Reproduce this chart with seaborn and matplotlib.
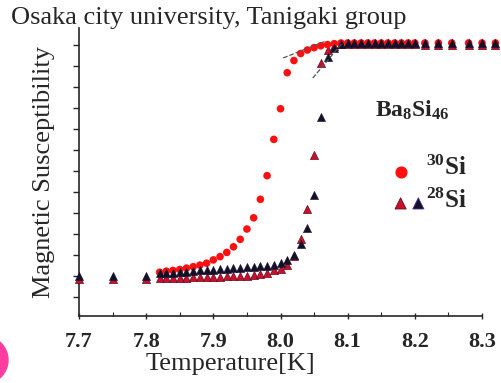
import numpy as np
import pandas as pd
import matplotlib.pyplot as plt
import seaborn as sns
from matplotlib.patches import Ellipse

# data (susceptibility normalised: low plateau 0, high plateau 1)
temp_30si = [7.82, 7.83, 7.84, 7.85, 7.86, 7.87, 7.88, 7.89, 7.90, 7.91,
             7.92, 7.93, 7.94, 7.95, 7.96, 7.97, 7.98, 7.99, 8.00, 8.01,
             8.02, 8.03, 8.04, 8.05, 8.06, 8.07, 8.08, 8.09, 8.10, 8.11,
             8.12, 8.13, 8.14, 8.15, 8.16, 8.17, 8.18, 8.19, 8.20,
             8.215, 8.235, 8.255, 8.28, 8.30, 8.32]
chi_30si = [0.020, 0.025, 0.028, 0.032, 0.038, 0.044, 0.051, 0.059, 0.073, 0.087,
            0.105, 0.129, 0.161, 0.205, 0.253, 0.332, 0.433, 0.588, 0.719, 0.873,
            0.925, 0.955, 0.970, 0.980, 0.988, 0.993, 0.997, 1.0, 1.0, 1.0,
            1.0, 1.0, 1.0, 1.0, 1.0, 1.0, 1.0, 1.0, 1.0,
            1.0, 1.0, 1.0, 1.0, 1.0, 1.0]

temp_28si = [7.70, 7.75, 7.80, 7.82, 7.83, 7.84, 7.85, 7.86, 7.87, 7.88,
             7.89, 7.90, 7.91, 7.92, 7.93, 7.94, 7.95, 7.96, 7.97, 7.98,
             7.99, 8.00, 8.01, 8.02, 8.03, 8.04, 8.05, 8.06, 8.07, 8.08,
             8.09, 8.10, 8.11, 8.12, 8.13, 8.14, 8.15, 8.16, 8.17, 8.18,
             8.19, 8.20, 8.215, 8.235, 8.255, 8.28, 8.30, 8.32]
chi_28si_black = [0.004, 0.004, 0.004, 0.015, 0.017, 0.019, 0.021, 0.023, 0.025, 0.028,
                  0.030, 0.032, 0.034, 0.036, 0.038, 0.040, 0.042, 0.044, 0.046, 0.048,
                  0.052, 0.058, 0.072, 0.094, 0.141, 0.208, 0.350, 0.683, 0.942, 0.980,
                  0.995, 1.0, 1.0, 1.0, 1.0, 1.0, 1.0, 1.0, 1.0, 1.0,
                  1.0, 1.0, 1.0, 1.0, 1.0, 1.0, 1.0, 1.0]
chi_28si_red = [-0.009, -0.009, -0.009, -0.006, -0.005, -0.004, -0.004, -0.003, -0.002, -0.001,
                0.0, 0.001, 0.002, 0.003, 0.004, 0.005, 0.006, 0.008, 0.012, 0.018,
                0.028, 0.036, 0.051, 0.090, 0.161, 0.290, 0.521, 0.913, 0.970, 0.985,
                0.995, 0.995, 0.995, 0.995, 0.995, 0.995, 0.995, 0.995, 0.995, 0.995,
                0.995, 0.995, 0.99, 0.99, 0.99, 0.99, 0.99, 0.99]

# tangent lines marking the onset
tangent_30si_t = [8.004, 8.068]
tangent_30si_chi = [0.936, 1.009]
tangent_28si_t = [8.048, 8.092]
tangent_28si_chi = [0.85, 1.0]

df30 = pd.DataFrame({"T": temp_30si, "chi": chi_30si})
df28 = pd.DataFrame({"T": temp_28si, "black": chi_28si_black, "red": chi_28si_red})

sns.set_style("ticks")
plt.rcParams['font.family'] = ['Liberation Serif', 'DejaVu Serif']
plt.rcParams['mathtext.fontset'] = 'custom'
plt.rcParams['mathtext.rm'] = 'Liberation Serif'
plt.rcParams['mathtext.bf'] = 'Liberation Serif:bold'

fig = plt.figure(figsize=(5.01, 3.83), dpi=100)
ax = fig.add_axes([0.1577, 0.1749, 0.8044, 0.752])

sns.scatterplot(data=df28, x="T", y="red", ax=ax, marker="^", s=34,
                color="#c8102e", edgecolor="#6a0a1a", linewidth=0.5, clip_on=False, zorder=3)
sns.scatterplot(data=df30, x="T", y="chi", ax=ax, marker="o", s=30,
                color="#ff1010", edgecolor="none", clip_on=False, zorder=4)
sns.scatterplot(data=df28, x="T", y="black", ax=ax, marker="^", s=34,
                color="#14102a", edgecolor="#14102a", linewidth=0.4, clip_on=False, zorder=5)

ax.plot(tangent_30si_t, tangent_30si_chi, ls="--", color="#555555", lw=0.9, zorder=6)
ax.plot(tangent_28si_t, tangent_28si_chi, ls="--", color="#555555", lw=0.9, zorder=6)

ax.set_xlim(7.7, 8.3)
ax.set_ylim(-0.1667, 1.064)
ax.set_xticks(np.arange(7.7, 8.31, 0.1))
ax.set_xticks(np.arange(7.75, 8.3, 0.1), minor=True)
ax.set_xticklabels([f"{v:.1f}" for v in np.arange(7.7, 8.31, 0.1)],
                   fontsize=16, fontweight="bold")
ax.set_yticks(np.arange(13) * 0.0897 - 0.0855)
ax.set_yticklabels([])
ax.tick_params(axis="x", which="major", length=5, width=1, pad=9, direction="inout")
ax.tick_params(axis="x", which="minor", length=3, width=0.8, direction="in")
ax.tick_params(axis="y", length=4, width=1, direction="out")
sns.despine(ax=ax)
ax.spines["left"].set_linewidth(1.2)
ax.spines["bottom"].set_linewidth(1.2)

ax.set_xlabel("")
ax.set_ylabel("Magnetic Susceptibility", fontsize=19, labelpad=10)
fig.text(0.459, 0.05, "Temperature[K]", fontsize=19, ha="center", va="center")

fig.text(0.022, 0.925, "Osaka city university, Tanigaki group", fontsize=19, va="bottom")

ax.text(0.734, 0.715, r"$\mathbf{Ba_{8}Si_{46}}$", transform=ax.transAxes, fontsize=17,
        ha="left", va="center")
ax.text(0.862, 0.515, r"$\mathbf{^{30}Si}$", transform=ax.transAxes, fontsize=18,
        ha="left", va="center")
ax.text(0.862, 0.400, r"$\mathbf{^{28}Si}$", transform=ax.transAxes, fontsize=18,
        ha="left", va="center")
ax.scatter([0.798], [0.501], transform=ax.transAxes, marker="o", s=60, color="#ff1010", clip_on=False)
ax.scatter([0.798, 0.842], [0.391, 0.391], transform=ax.transAxes, marker="^", s=65,
           color=["#c8102e", "#14102a"], edgecolor=["#6a0a1a", "#5030a0"], linewidth=0.6, clip_on=False)

fig.add_artist(Ellipse((-0.032, 0.06), 0.096, 0.125, transform=fig.transFigure,
                       color="#ff3d9e", clip_on=False))

fig.savefig("out.png", dpi=100)
